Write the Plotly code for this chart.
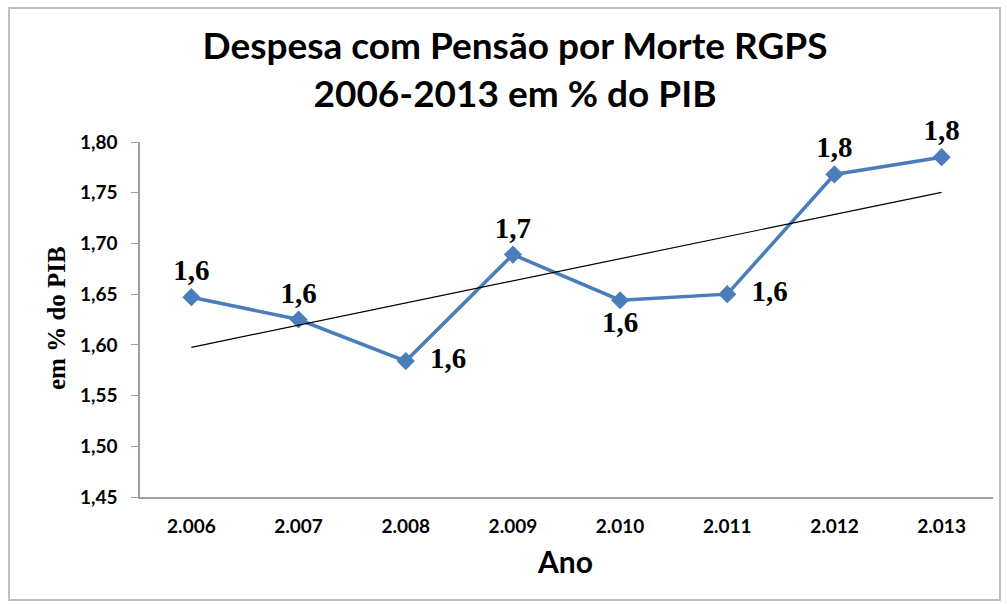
import numpy as np
import plotly.graph_objects as go

years = ["2.006", "2.007", "2.008", "2.009", "2.010", "2.011", "2.012", "2.013"]
values = [1.647, 1.625, 1.584, 1.689, 1.644, 1.650, 1.768, 1.785]
label_pos = ["top center", "top center", "middle right", "top center",
             "bottom center", "middle right", "top center", "top center"]
y_ticks = [1.45, 1.50, 1.55, 1.60, 1.65, 1.70, 1.75, 1.80]

# linear trendline (least squares on category index)
idx = np.arange(len(values))
slope, intercept = np.polyfit(idx, values, 1)
trend = slope * idx + intercept

labels = []
for v, p in zip(values, label_pos):
    t = f"{v:.1f}".replace(".", ",")
    if p == "middle right":
        t = "\u00a0\u00a0" + t
    labels.append(t)

fig = go.Figure()
fig.add_trace(go.Scatter(
    x=years, y=values, mode="lines+markers+text",
    line=dict(color="#4A7EBB", width=3.5),
    marker=dict(symbol="diamond", size=14, color="#4A7EBB"),
    text=labels, textposition=label_pos,
    textfont=dict(family="Liberation Serif", size=29, color="black", weight="bold"),
    cliponaxis=False, showlegend=False,
))
fig.add_trace(go.Scatter(
    x=years, y=trend, mode="lines",
    line=dict(color="black", width=1.2), showlegend=False,
))

fig.update_layout(
    width=1007, height=604,
    margin=dict(l=140, r=14, t=142, b=107),
    paper_bgcolor="white", plot_bgcolor="white",
    separators=",.",
    title=dict(
        text="<b>Despesa com Pensão por Morte RGPS<br>2006-2013 em % do PIB</b>",
        font=dict(family="Lato", size=37, color="black"),
        x=(192 + 838) / 2 / 1007, xref="container", xanchor="center",
        y=1 - 59 / 604, yref="container", yanchor="middle",
    ),
    xaxis=dict(
        type="category", showline=True, linecolor="#9E9E9E", linewidth=1.5,
        showgrid=False, ticks="", ticklabelstandoff=11,
        tickfont=dict(family="Lato", size=19, color="black", weight="bold"),
    ),
    yaxis=dict(
        range=[1.45, 1.80], tickvals=y_ticks, tickformat=".2f",
        showline=True, linecolor="#9E9E9E", linewidth=1.5,
        ticks="outside", ticklen=7, tickcolor="#9E9E9E",
        ticklabelstandoff=10,
        showgrid=False, zeroline=False,
        tickfont=dict(family="Lato", size=19, color="black", weight="bold"),
    ),
    annotations=[
        dict(text="<b>em % do PIB</b>", textangle=-90, xref="paper", yref="paper",
             x=(56 - 140) / 853, y=(497 - 318) / 355, showarrow=False,
             xanchor="center", yanchor="middle",
             font=dict(family="Liberation Serif", size=25, color="black")),
        dict(text="<b>Ano</b>", xref="paper", yref="paper",
             x=(565 - 140) / 853, y=(497 - 561) / 355, showarrow=False,
             xanchor="center", yanchor="middle",
             font=dict(family="Lato", size=30, color="black")),
    ],
    shapes=[
        dict(type="rect", xref="paper", yref="paper",
             x0=(9 - 140) / 853, x1=(1000 - 140) / 853,
             y0=(497 - 600) / 355, y1=(497 - 8) / 355,
             line=dict(color="#BFBFBF", width=2), fillcolor="rgba(0,0,0,0)", layer="below"),
    ],
)

fig.write_html("out.html", config={"displayModeBar": False},
               post_script="document.body.style.margin='0';")
